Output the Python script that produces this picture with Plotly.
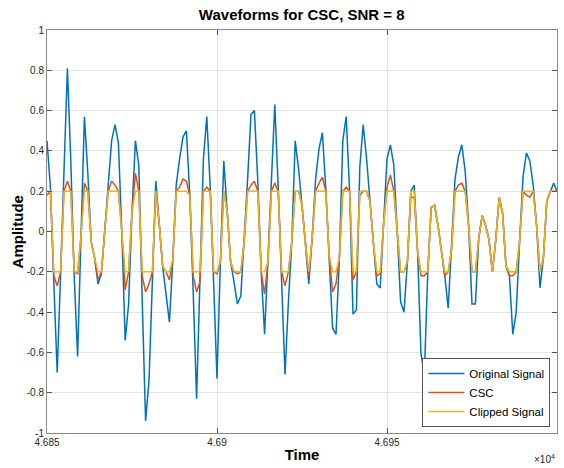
import plotly.graph_objects as go

time = list(range(46850, 47001))

original = [
    0.45, 0.22, -0.25, -0.70, -0.21, 0.30, 0.81, 0.35, -0.22, -0.62,
    -0.02, 0.57, 0.29, -0.05, -0.13, -0.26, -0.21, 0.02, 0.24, 0.45,
    0.53, 0.44, 0.00, -0.54, -0.36, 0.10, 0.45, 0.33, -0.34, -0.94,
    -0.74, -0.27, 0.25, 0.04, -0.17, -0.31, -0.45, -0.14, 0.23, 0.36,
    0.47, 0.50, 0.18, -0.30, -0.83, -0.23, 0.36, 0.57, 0.22, -0.25,
    -0.73, -0.15, 0.35, 0.10, -0.15, -0.25, -0.36, -0.32, -0.05, 0.26,
    0.58, 0.60, 0.25, -0.20, -0.51, -0.15, 0.21, 0.63, 0.22, -0.20,
    -0.71, -0.35, -0.05, 0.45, 0.31, 0.13, -0.06, -0.26, -0.03, 0.26,
    0.41, 0.49, 0.21, -0.12, -0.48, -0.51, -0.13, 0.45, 0.57, 0.20,
    -0.41, -0.39, 0.32, 0.53, 0.36, 0.15, -0.06, -0.26, -0.28, 0.04,
    0.36, 0.43, 0.33, 0.00, -0.35, -0.40, -0.15, 0.20, 0.23, -0.10,
    -0.61, -0.70, -0.20, 0.12, 0.13, 0.03, -0.10, -0.22, -0.38, -0.09,
    0.26, 0.37, 0.43, 0.30, 0.03, -0.36, -0.36, -0.03, 0.08, 0.03,
    -0.04, -0.20, -0.04, 0.17, 0.09, -0.17, -0.22, -0.51, -0.40, -0.05,
    0.27, 0.39, 0.35, 0.23, 0.03, -0.28, -0.13, 0.15, 0.20, 0.24,
    0.20,
]

csc = [
    0.18, 0.20, -0.22, -0.27, -0.20, 0.20, 0.25, 0.20, -0.20, -0.21,
    -0.02, 0.24, 0.20, -0.05, -0.13, -0.24, -0.20, 0.02, 0.20, 0.25,
    0.23, 0.20, 0.00, -0.29, -0.20, 0.10, 0.29, 0.20, -0.22, -0.30,
    -0.26, -0.20, 0.20, 0.04, -0.17, -0.20, -0.24, -0.14, 0.20, 0.22,
    0.26, 0.25, 0.18, -0.22, -0.30, -0.25, 0.20, 0.22, 0.20, -0.20,
    -0.21, -0.15, 0.20, 0.10, -0.15, -0.20, -0.21, -0.20, -0.05, 0.20,
    0.23, 0.25, 0.20, -0.20, -0.31, -0.15, 0.20, 0.24, 0.20, -0.20,
    -0.27, -0.20, -0.05, 0.20, 0.20, 0.13, -0.06, -0.22, -0.03, 0.20,
    0.24, 0.27, 0.20, -0.12, -0.30, -0.26, -0.13, 0.20, 0.22, 0.20,
    -0.24, -0.20, 0.18, 0.20, 0.20, 0.15, -0.06, -0.22, -0.21, 0.04,
    0.22, 0.28, 0.20, 0.00, -0.20, -0.20, -0.15, 0.17, 0.17, -0.10,
    -0.22, -0.22, -0.20, 0.12, 0.13, 0.03, -0.10, -0.22, -0.20, -0.09,
    0.20, 0.23, 0.24, 0.20, 0.03, -0.20, -0.20, -0.03, 0.08, 0.03,
    -0.04, -0.20, -0.04, 0.17, 0.09, -0.17, -0.22, -0.22, -0.20, -0.05,
    0.20, 0.18, 0.17, 0.20, 0.03, -0.20, -0.13, 0.15, 0.20, 0.20,
    0.20,
]

clipped = [
    0.20, 0.20, -0.20, -0.20, -0.20, 0.20, 0.20, 0.20, -0.20, -0.20,
    -0.02, 0.20, 0.20, -0.05, -0.13, -0.20, -0.20, 0.02, 0.20, 0.20,
    0.20, 0.20, 0.00, -0.20, -0.20, 0.10, 0.20, 0.20, -0.20, -0.20,
    -0.20, -0.20, 0.20, 0.04, -0.17, -0.20, -0.20, -0.14, 0.20, 0.20,
    0.20, 0.20, 0.18, -0.20, -0.20, -0.20, 0.20, 0.20, 0.20, -0.20,
    -0.20, -0.15, 0.20, 0.10, -0.15, -0.20, -0.20, -0.20, -0.05, 0.20,
    0.20, 0.20, 0.20, -0.20, -0.20, -0.15, 0.20, 0.20, 0.20, -0.20,
    -0.20, -0.20, -0.05, 0.20, 0.20, 0.13, -0.06, -0.20, -0.03, 0.20,
    0.20, 0.20, 0.20, -0.12, -0.20, -0.20, -0.13, 0.20, 0.20, 0.20,
    -0.20, -0.20, 0.20, 0.20, 0.20, 0.15, -0.06, -0.20, -0.20, 0.04,
    0.20, 0.20, 0.20, 0.00, -0.20, -0.20, -0.15, 0.20, 0.20, -0.10,
    -0.20, -0.20, -0.20, 0.12, 0.13, 0.03, -0.10, -0.20, -0.20, -0.09,
    0.20, 0.20, 0.20, 0.20, 0.03, -0.20, -0.20, -0.03, 0.08, 0.03,
    -0.04, -0.20, -0.04, 0.17, 0.09, -0.17, -0.20, -0.20, -0.20, -0.05,
    0.20, 0.20, 0.20, 0.20, 0.03, -0.20, -0.13, 0.15, 0.20, 0.20,
    0.20,
]

x_tickvals = [46850, 46900, 46950, 47000]
x_ticktext = ["4.685", "4.69", "4.695", "4.7"]
y_tickvals = [-1, -0.8, -0.6, -0.4, -0.2, 0, 0.2, 0.4, 0.6, 0.8, 1]
y_ticktext = ["-1", "-0.8", "-0.6", "-0.4", "-0.2", "0", "0.2", "0.4", "0.6", "0.8", "1"]

FONT = "Liberation Sans, Arial, Helvetica, sans-serif"

fig = go.Figure()
fig.add_trace(go.Scatter(x=time, y=original, mode="lines", name="Original Signal",
                         line=dict(color="#0072BD", width=1.5)))
fig.add_trace(go.Scatter(x=time, y=csc, mode="lines", name="CSC",
                         line=dict(color="#D95319", width=1.5)))
fig.add_trace(go.Scatter(x=time, y=clipped, mode="lines", name="Clipped Signal",
                         line=dict(color="#EDB120", width=1.5)))

axis_common = dict(
    showline=True, linecolor="#8a8a8a", linewidth=1, mirror="ticks",
    ticks="inside", ticklen=5, tickcolor="#555555",
    showgrid=True, gridcolor="#e4e4e4", gridwidth=1,
    zeroline=False, automargin=False,
    tickfont=dict(family=FONT, size=10, color="#262626"),
)

fig.update_layout(
    width=564, height=468,
    margin=dict(l=47, r=7, t=30, b=35),
    paper_bgcolor="white", plot_bgcolor="white",
    title=dict(text="<b>Waveforms for CSC, SNR = 8</b>", x=0.535, xanchor="center",
               y=0.968, yanchor="middle",
               font=dict(family=FONT, size=15, color="black")),
    xaxis=dict(range=[46850, 47000], tickvals=x_tickvals, ticktext=x_ticktext,
               title=dict(text="<b>Time</b>", font=dict(family=FONT, size=15, color="black"),
                          standoff=2),
               **axis_common),
    yaxis=dict(range=[-1, 1], tickvals=y_tickvals, ticktext=y_ticktext,
               **axis_common),
    legend=dict(x=0.987, y=0.015, xanchor="right", yanchor="bottom",
                bgcolor="white", bordercolor="#555555", borderwidth=1,
                font=dict(family=FONT, size=11.5, color="black"),
                tracegroupgap=0, itemwidth=36),
    showlegend=True,
)

fig.add_annotation(text="<b>Amplitude</b>", xref="paper", yref="paper",
                   x=-0.057, y=0.5, xanchor="center", yanchor="middle",
                   textangle=-90, showarrow=False,
                   font=dict(family=FONT, size=15, color="black"))

fig.add_annotation(text="×10<sup>4</sup>", xref="paper", yref="paper",
                   x=1.0, y=-0.045, xanchor="right", yanchor="top", showarrow=False,
                   font=dict(family=FONT, size=10, color="#262626"))

fig.write_html("out.html")
